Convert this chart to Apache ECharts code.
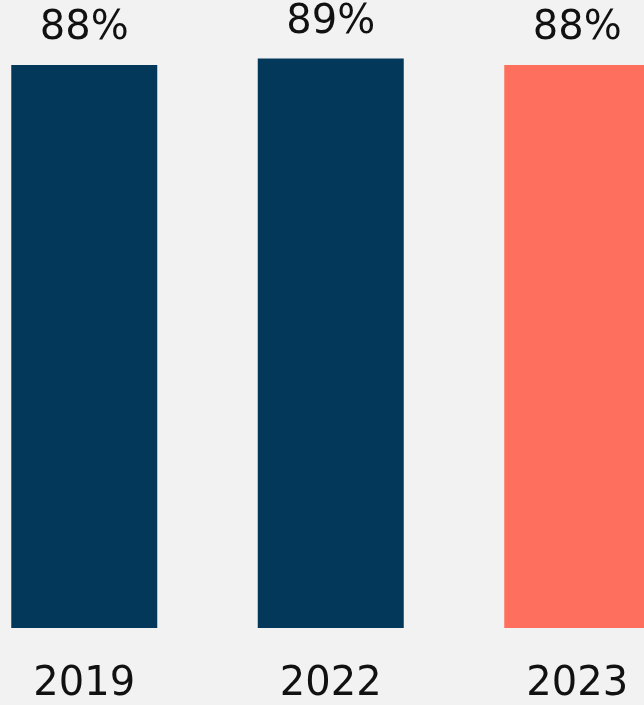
<!DOCTYPE html>
<html><head><meta charset="utf-8">
<style>html,body{margin:0;padding:0;background:#f2f2f2;overflow:hidden;width:644px;height:705px;}#c{width:740px;height:705px;margin-left:-39px;}</style>
<script src="https://cdn.jsdelivr.net/npm/echarts@6/dist/echarts.min.js"></script>
</head><body><div id="c"></div>
<script>
const categories = ['2019', '2022', '2023'];
const values = [88, 89, 88];
const barColors = ['#03385a', '#03385a', '#ff6f5e'];

const chart = echarts.init(document.getElementById('c'));
chart.setOption({
  backgroundColor: '#f2f2f2',
  animation: false,
  grid: { left: 0, right: 0.5, top: 1, bottom: 74, containLabel: false },
  xAxis: {
    type: 'category', data: categories,
    axisLine: { show: false }, axisTick: { show: false },
    axisLabel: { color: '#111', fontSize: 40, fontFamily: 'DejaVu Sans', fontWeight: 'normal', margin: 37 }
  },
  yAxis: { type: 'value', min: 0, max: 98, show: false, splitLine: { show: false } },
  series: [{
    type: 'bar', barWidth: 146,
    data: values.map((v, i) => ({ value: v, itemStyle: { color: barColors[i] } })),
    label: {
      show: true, position: 'top', distance: 16, formatter: '{c}%',
      color: '#111', fontSize: 40, fontFamily: 'DejaVu Sans', fontWeight: 'normal'
    }
  }]
});
</script></body></html>
